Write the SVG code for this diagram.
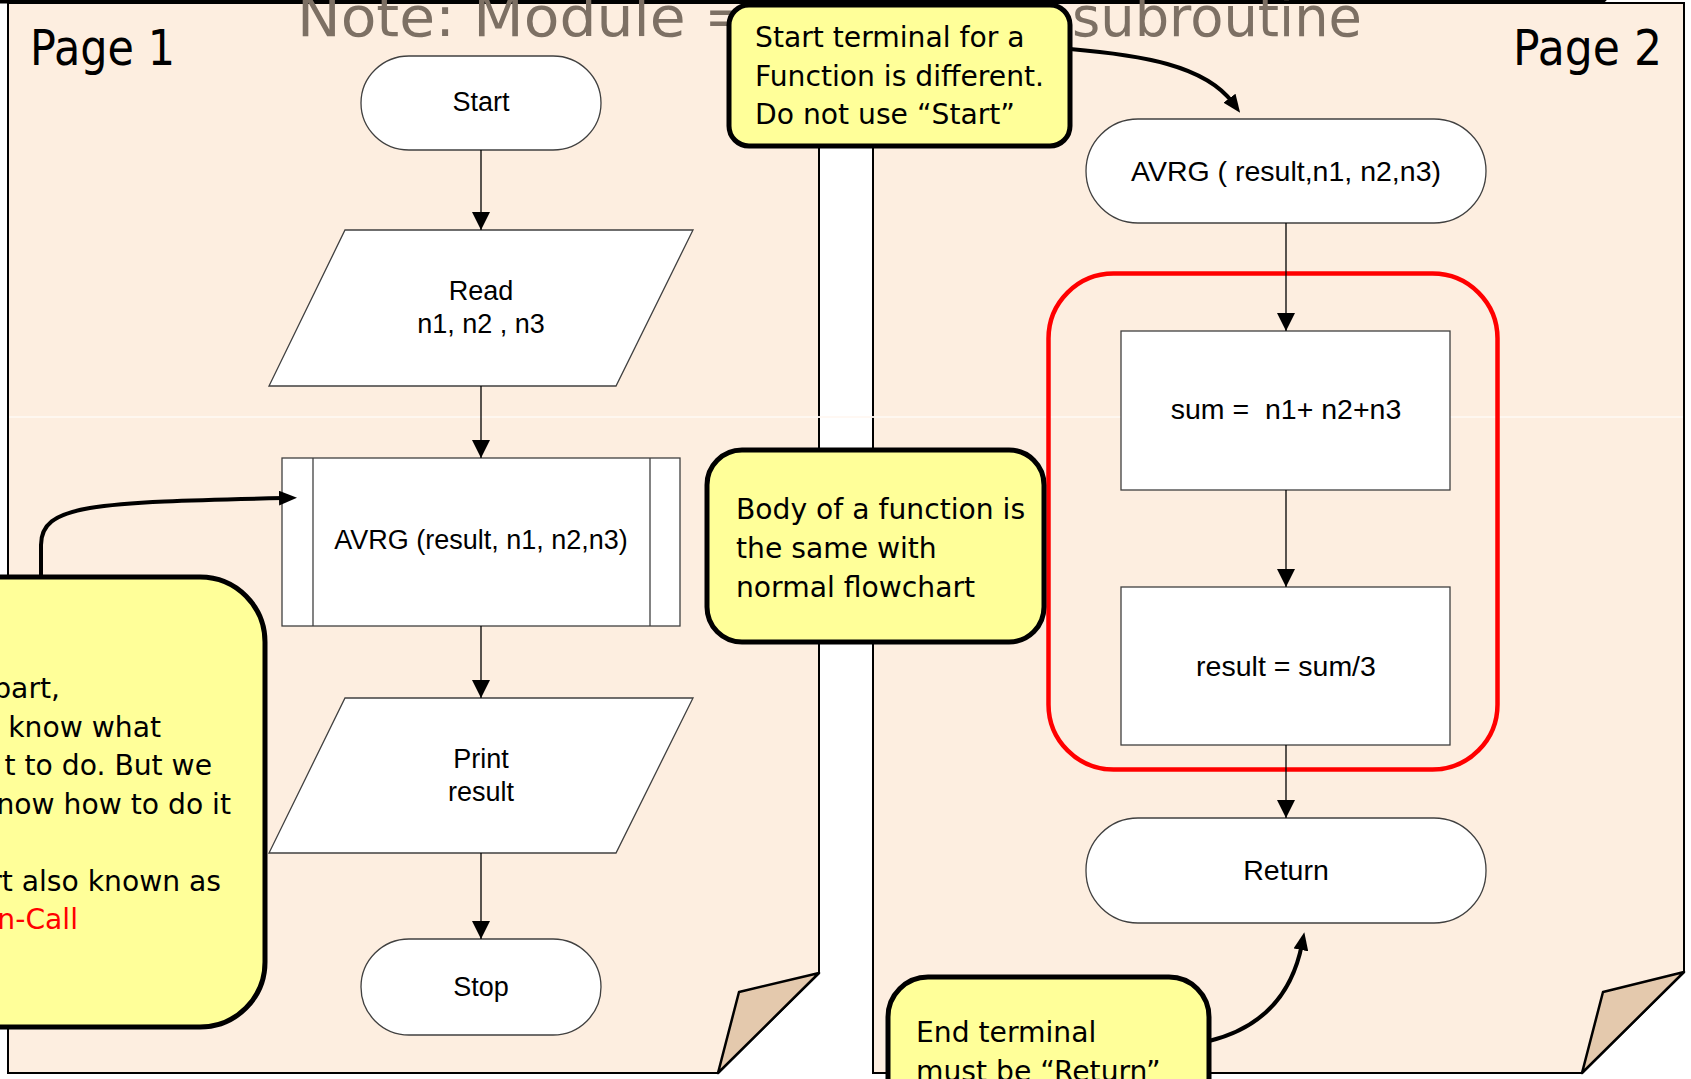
<svg xmlns="http://www.w3.org/2000/svg" width="1691" height="1079" viewBox="0 0 1691 1079">
  <defs>
    <style>
      .page { fill: #FDEEE0; stroke: #000; stroke-width: 2; stroke-linejoin: miter; }
      .fold { fill: #E4C9AD; stroke: #000; stroke-width: 2.5; stroke-linejoin: round; }
      .node { fill: #fff; stroke: #404040; stroke-width: 1.3; }
      .lbl { font-family: "Liberation Sans", Arial, sans-serif; fill: #000; text-anchor: middle; white-space: pre; }
      .p1 { font-size: 27px; }
      .p2 { font-size: 28.5px; }
      .flow { stroke: #000; stroke-width: 1.3; fill: none; marker-end: url(#tri); }
      .note { fill: #FFFF99; stroke: #000; stroke-width: 5; }
      .ntxt { font-family: "DejaVu Sans", Verdana, sans-serif; font-size: 28.2px; fill: #000; }
      .lead { stroke: #000; stroke-width: 4; fill: none; stroke-linecap: round; marker-end: url(#head); }
      .title { font-family: "DejaVu Sans", Verdana, sans-serif; font-size: 56px; fill: #7D7064; }
      .pg { font-family: "DejaVu Sans", Verdana, sans-serif; font-size: 50px; fill: #000; }
    </style>
    <marker id="tri" markerUnits="userSpaceOnUse" viewBox="0 0 18 18" markerWidth="18" markerHeight="18" refX="18" refY="9" orient="auto">
      <path d="M0,0 L18,9 L0,18 Z" fill="#000"/>
    </marker>
    <marker id="head" markerUnits="userSpaceOnUse" viewBox="0 0 18 15" markerWidth="18" markerHeight="15" refX="6" refY="7.5" orient="auto">
      <path d="M0,0 L18,7.5 L0,15 Z" fill="#000"/>
    </marker>
  </defs>

  <rect x="0" y="0" width="1691" height="1079" fill="#fff"/>

  <!-- dark edge along the top -->
  <rect x="-10" y="-12" width="1618" height="15.5" rx="8" fill="#000"/>

  <!-- two sheets with turned-up corners -->
  <g id="sheet1">
    <path class="page" d="M8,3 L819,3 L819,973 L718,1073 L8,1073 Z"/>
    <path class="fold" d="M819,973 L739,992 L718,1073 Z"/>
  </g>
  <g id="sheet2">
    <path class="page" d="M873,3 L1684,3 L1684,972 L1582,1073 L873,1073 Z"/>
    <path class="fold" d="M1684,972 L1603,992 L1582,1073 Z"/>
  </g>
  <line x1="9" y1="417" x2="1683" y2="417" stroke="#FFF8F2" stroke-width="2" opacity="0.9"/>

  <!-- heading text -->
  <text class="title" x="297" y="36" textLength="456" lengthAdjust="spacingAndGlyphs">Note: Module =</text>
  <text class="title" x="1072" y="36" textLength="290" lengthAdjust="spacingAndGlyphs">subroutine</text>

  <text class="pg" x="30" y="65" textLength="145" lengthAdjust="spacingAndGlyphs">Page 1</text>
  <text class="pg" x="1513" y="65" textLength="149" lengthAdjust="spacingAndGlyphs">Page 2</text>

  <!-- function body highlight -->
  <rect id="body-frame" x="1048.5" y="273.5" width="449" height="496" rx="65" fill="none" stroke="#FF0000" stroke-width="4.5"/>

  <!-- main flowchart -->
  <g id="start">
    <rect class="node" x="361" y="56" width="240" height="94" rx="48" ry="47"/>
    <text class="lbl p1" x="481" y="111">Start</text>
  </g>
  <g id="read">
    <path class="node" d="M345,230 L693,230 L616,386 L269,386 Z"/>
    <text class="lbl p1" x="481" y="300">Read</text>
    <text class="lbl p1" x="481" y="333">n1, n2 , n3</text>
  </g>
  <g id="call">
    <rect class="node" x="282" y="458" width="398" height="168"/>
    <line x1="313" y1="458" x2="313" y2="626" stroke="#404040" stroke-width="1.3"/>
    <line x1="650" y1="458" x2="650" y2="626" stroke="#404040" stroke-width="1.3"/>
    <text class="lbl p1" x="481" y="549">AVRG (result, n1, n2,n3)</text>
  </g>
  <g id="print">
    <path class="node" d="M345,698 L693,698 L616,853 L269,853 Z"/>
    <text class="lbl p1" x="481" y="768">Print</text>
    <text class="lbl p1" x="481" y="801">result</text>
  </g>
  <g id="stop">
    <rect class="node" x="361" y="939" width="240" height="96" rx="48" ry="48"/>
    <text class="lbl p1" x="481" y="996">Stop</text>
  </g>

  <!-- function flowchart -->
  <g id="avrg">
    <rect class="node" x="1086" y="119" width="400" height="104" rx="52" ry="52"/>
    <text class="lbl p2" x="1286" y="181">AVRG ( result,n1, n2,n3)</text>
  </g>
  <g id="sum">
    <rect class="node" x="1121" y="331" width="329" height="159"/>
    <text class="lbl p2" x="1286" y="419">sum =  n1+ n2+n3</text>
  </g>
  <g id="divide">
    <rect class="node" x="1121" y="587" width="329" height="158"/>
    <text class="lbl p2" x="1286" y="676">result = sum/3</text>
  </g>
  <g id="return">
    <rect class="node" x="1086" y="818" width="400" height="105" rx="52" ry="52"/>
    <text class="lbl p2" x="1286" y="880">Return</text>
  </g>

  <!-- connectors -->
  <g id="connectors">
    <line class="flow" x1="481" y1="150" x2="481" y2="230"/>
    <line class="flow" x1="481" y1="386" x2="481" y2="458"/>
    <line class="flow" x1="481" y1="626" x2="481" y2="698"/>
    <line class="flow" x1="481" y1="853" x2="481" y2="939"/>
    <line class="flow" x1="1286" y1="223" x2="1286" y2="331"/>
    <line class="flow" x1="1286" y1="490" x2="1286" y2="587"/>
    <line class="flow" x1="1286" y1="745" x2="1286" y2="818"/>
    <path class="lead" d="M1070,49 C1140,55 1205,65 1233,103"/>
    <path class="lead" d="M41,578 L41,545 C41,505 90,502 285,498"/>
    <path class="lead" d="M1209,1041 C1262,1028 1292,995 1302,944"/>
  </g>

  <!-- callouts -->
  <g id="note-start">
    <rect class="note" x="729" y="5" width="341" height="141" rx="20"/>
    <text class="ntxt" x="755" y="47">Start terminal for a</text>
    <text class="ntxt" x="755" y="85.5">Function is different.</text>
    <text class="ntxt" x="755" y="124">Do not use “Start”</text>
  </g>
  <g id="note-body">
    <rect class="note" x="707" y="450" width="337" height="192" rx="35"/>
    <text class="ntxt" x="736" y="519">Body of a function is</text>
    <text class="ntxt" x="736" y="558">the same with</text>
    <text class="ntxt" x="736" y="597">normal flowchart</text>
  </g>
  <g id="note-call">
    <rect class="note" x="-90" y="577" width="355" height="450" rx="65"/>
    <g class="ntxt" text-anchor="end">
      <text x="60" y="698">part,</text>
      <text x="161" y="736.5">know what</text>
      <text x="212" y="775">t to do. But we</text>
      <text x="231" y="813.5">now how to do it</text>
      <text x="221" y="890.5">rt also known as</text>
      <text x="78" y="929" fill="#FF0000">n-Call</text>
    </g>
  </g>
  <g id="note-end">
    <rect class="note" x="888" y="977" width="321" height="150" rx="40"/>
    <text class="ntxt" x="916" y="1042">End terminal</text>
    <text class="ntxt" x="916" y="1081">must be “Return”</text>
  </g>
</svg>
